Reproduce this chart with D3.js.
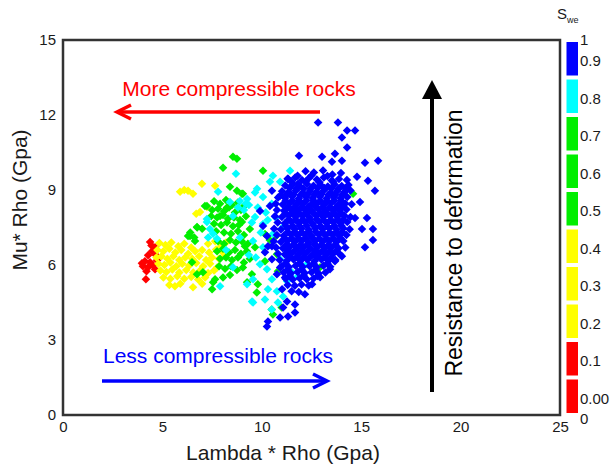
<!DOCTYPE html>
<html>
<head>
<meta charset="utf-8">
<script src="https://cdn.jsdelivr.net/npm/d3@7"></script>
<style>
  html, body { margin: 0; padding: 0; background: #fff; }
  svg { display: block; font-family: Arial, "Liberation Sans", sans-serif; }
</style>
</head>
<body>
<svg id="chart" width="616" height="464"></svg>
<script>
// ---------------- data ----------------
const xTicks = [0, 5, 10, 15, 20, 25];
const yTicks = [0, 3, 6, 9, 12, 15];
const xTitle = "Lambda * Rho (Gpa)";
const yTitle = "Mu* Rho (Gpa)";

const cbColors = ["#FF0000", "#FF0000", "#FFFF00", "#FFFF00", "#FFFF00", "#00EE00", "#00EE00", "#00EE00", "#00FFFF", "#0000FF"]; // bottom to top
const cbTickLabels = ["1", "0.9", "0.8", "0.7", "0.6", "0.5", "0.4", "0.3", "0.2", "0.1", "0.00", "0"];
const cbTickValues = [1, 0.95, 0.85, 0.75, 0.65, 0.55, 0.45, 0.35, 0.25, 0.15, 0.05, 0];

const redPts = [[4.38,6.92],[4.63,6.71],[4.48,6.55],[4.28,6.39],[4.68,6.39],[4.12,6.15],[4.38,6.11],[4.73,6.19],[4.02,5.95],[4.28,5.91],[4.53,5.99],[4.17,5.43],[4.63,5.83],[3.97,6.07],[4.45,6.78],[4.2,5.75]];

const yellowPts = [[5.89,8.93],[6.1,9.0],[6.29,8.97],[6.54,8.85],[6.99,9.25],[7.65,9.17],[6.89,8.12],[7.24,8.32],[6.7,8.05],
[4.85,6.88],[5.15,6.8],[5.45,6.9],[5.8,6.75],[6.1,6.85],[6.45,6.7],[7.3,6.85],[7.65,6.95],[7.95,6.75],[8.2,6.9],
[4.75,6.6],[5.05,6.55],[5.35,6.65],[5.65,6.5],[5.95,6.6],[6.3,6.45],[6.65,6.55],[7.0,6.6],[7.35,6.5],[7.7,6.62],[8.05,6.5],
[4.7,6.3],[4.95,6.35],[5.25,6.25],[5.55,6.35],[5.85,6.2],[6.15,6.3],[6.5,6.25],[6.85,6.35],[7.2,6.2],[7.5,6.3],[7.85,6.25],[8.15,6.35],
[4.8,6.05],[5.1,6.0],[5.4,6.1],[5.7,5.95],[6.0,6.05],[6.35,5.98],[6.7,6.08],[7.05,5.95],[7.4,6.05],[7.75,5.9],
[4.9,5.78],[5.2,5.72],[5.5,5.82],[5.85,5.7],[6.2,5.8],[6.55,5.7],[6.9,5.78],[7.3,5.68],[7.6,5.78],
[5.05,5.5],[5.4,5.45],[5.75,5.55],[6.1,5.45],[6.45,5.52],[6.8,5.42],[7.15,5.5],
[5.35,5.2],[5.63,5.15],[5.9,5.25],[6.54,5.11],[7.0,5.25]];

const greenPts = [[8.55,10.33],[8.75,10.25],[8.05,9.89],[10.06,9.77],[8.4,9.13],[8.75,8.97],[9.05,8.85],[7.14,8.36],[7.24,8.36],[7.8,8.25],[8.25,8.3],[7.9,7.96],[6.74,7.52],[6.29,7.16],
[7.6,8.55],[7.9,8.45],[8.2,8.6],[8.5,8.4],[8.8,8.5],[9.1,8.35],
[7.5,8.2],[8.1,8.15],[8.35,8.3],[8.65,8.1],[8.95,8.2],
[7.45,7.95],[7.75,7.9],[8.05,8.0],[8.3,7.85],[8.6,7.9],[8.9,7.8],[9.2,7.95],
[7.6,7.65],[7.95,7.6],[8.25,7.7],[8.55,7.55],[8.85,7.6],
[7.7,7.35],[8.1,7.3],[8.45,7.25],[8.8,7.35],[9.1,7.2],
[6.4,7.3],[6.6,7.1],[6.75,7.5],[7.0,7.45],
[7.8,6.95],[8.1,6.85],[8.4,7.0],[8.7,6.9],[9.0,6.95],[9.3,6.85],
[7.75,6.55],[8.05,6.65],[8.35,6.5],[8.65,6.6],[8.95,6.45],[9.25,6.55],
[7.9,6.25],[8.2,6.3],[8.5,6.2],[8.8,6.3],[9.1,6.1],[9.4,6.25],
[7.85,5.95],[8.15,5.85],[8.45,5.95],[8.75,5.8],[9.05,5.9],
[8.05,5.5],[8.4,5.6],[7.65,5.43],[7.5,5.03],[7.55,5.31],[9.26,5.31],[6.49,6.11],[6.74,5.63],[7.04,5.71],[6.39,7.16],[6.64,6.96],
[9.0,7.72],[9.4,7.44],[9.15,6.75],[9.66,6.71],[9.5,5.63],[9.8,5.23],[9.75,4.9],[10.5,4.22],[10.56,4.02],[11.0,4.3],[10.16,7.24],[10.76,6.43],[10.81,5.75],[10.16,6.15],
[9.0,8.85],[14.59,8.85],[12.93,5.91],[10.4,7.0],[10.7,7.15]];

const cyanPts = [[8.7,9.65],[11.42,9.77],[10.56,9.57],[10.92,9.33],[9.66,8.9],[10.06,8.72],[9.2,8.45],
[7.8,8.93],[8.4,8.52],[8.9,8.56],[9.26,8.64],[7.24,7.84],[7.39,7.44],[8.55,7.96],[7.24,7.72],[8.8,8.3],[9.1,8.2],[9.35,8.4],[9.76,9.05],[10.41,9.33],
[7.3,7.1],[7.55,7.25],[7.75,7.05],[8.55,5.91],[9.26,5.23],[7.9,5.15],[9.56,4.5],[10.5,4.22],
[9.66,7.92],[10.06,7.64],[9.56,6.96],[10.06,6.71],[10.56,7.24],[11.07,7.52],[9.91,6.03],[10.26,5.83],[9.51,4.54],[10.16,4.62],[10.76,4.95],[11.27,5.35],[11.52,5.71],[11.82,5.55],[12.27,6.03],[10.92,6.23],[10.51,5.43],[10.31,5.03],[11.07,4.74],[10.81,4.5],[9.56,5.43],
[9.8,8.3],[10.2,8.1],[10.5,8.45],[9.5,7.7],[10.3,7.8],[9.35,6.4],[9.7,6.3],[8.9,7.1],[9.95,7.3],[10.7,7.9],[8.2,6.6]];

const bluePts = [
// outliers
[12.83,11.7],[13.83,11.7],[14.29,11.38],[14.69,11.38],[14.03,11.1],[14.29,10.7],[11.87,10.37],[13.03,10.33],[13.68,10.45],[14.03,10.17],[13.53,10.13],[15.19,10.09],[15.85,10.17],[14.79,9.53],[15.34,9.37],[15.69,8.97],[14.94,8.52],[14.69,7.88],[15.29,7.88],[15.04,7.44],[15.59,7.44],[15.59,7.0],[15.19,6.71],[14.03,6.35],[13.68,6.15],[13.43,5.83],[12.93,5.51],[12.53,5.23],[12.17,4.83],[11.67,4.42],[11.67,4.1],[11.32,3.94],[10.92,3.9],[10.31,3.74],[10.26,3.54],[11.32,9.45],[11.82,9.25],
// left scatter
[10.31,6.75],[10.51,6.23],[10.76,5.63],[11.02,5.03],[11.27,4.54],[11.07,4.3],[10.51,8.97],[10.92,8.77],[10.41,8.36],[9.91,8.16],[10.06,7.56],[10.26,7.16],[10.51,6.75],[10.16,6.51],[10.92,5.9],[11.17,5.5],
// core
[12.2,9.75],[12.62,9.7],[13.08,9.78],[13.55,9.62],[13.98,9.68],
[11.3,9.45],[11.68,9.5],[12.02,9.4],[12.38,9.48],[12.77,9.42],[13.12,9.5],[13.52,9.38],[13.88,9.44],[14.28,9.4],
[11.18,9.18],[11.55,9.22],[11.92,9.15],[12.27,9.24],[12.6,9.17],[12.96,9.2],[13.32,9.14],[13.66,9.22],[14.02,9.16],[14.36,9.2],
[11.02,8.95],[11.36,8.92],[11.72,8.98],[12.06,8.9],[12.42,8.96],[12.76,8.93],[13.12,8.98],[13.47,8.9],[13.8,8.96],[14.16,8.92],[14.46,8.98],
[10.82,8.7],[11.17,8.68],[11.52,8.74],[11.86,8.66],[12.22,8.72],[12.56,8.68],[12.92,8.73],[13.26,8.66],[13.62,8.71],[13.96,8.67],[14.3,8.72],
[10.7,8.45],[11.05,8.42],[11.42,8.48],[11.76,8.43],[12.1,8.46],[12.46,8.4],[12.8,8.47],[13.16,8.43],[13.5,8.48],[13.86,8.41],[14.2,8.46],[14.52,8.43],
[10.76,8.2],[11.12,8.17],[11.46,8.22],[11.8,8.16],[12.16,8.21],[12.5,8.18],[12.86,8.22],[13.2,8.16],[13.56,8.2],[13.9,8.18],[14.26,8.22],
[10.66,7.95],[11.01,7.92],[11.36,7.97],[11.7,7.93],[12.06,7.96],[12.4,7.91],[12.76,7.97],[13.1,7.92],[13.46,7.96],[13.8,7.93],[14.16,7.97],[14.46,7.92],
[10.8,7.7],[11.16,7.67],[11.5,7.72],[11.86,7.68],[12.2,7.71],[12.56,7.66],[12.9,7.72],[13.26,7.68],[13.6,7.71],[13.96,7.67],[14.3,7.72],
[10.62,7.45],[10.96,7.42],[11.3,7.47],[11.66,7.43],[12.0,7.46],[12.36,7.41],[12.7,7.47],[13.06,7.43],[13.4,7.46],[13.76,7.42],[14.1,7.47],[14.42,7.43],
[10.76,7.2],[11.1,7.17],[11.46,7.22],[11.8,7.18],[12.16,7.21],[12.5,7.16],[12.86,7.22],[13.2,7.18],[13.56,7.21],[13.9,7.17],[14.26,7.2],
[10.6,6.95],[10.96,6.92],[11.3,6.97],[11.66,6.93],[12.0,6.96],[12.36,6.91],[12.7,6.97],[13.06,6.93],[13.4,6.96],[13.76,6.92],[14.1,6.96],
[10.72,6.7],[11.06,6.67],[11.4,6.72],[11.76,6.68],[12.1,6.71],[12.46,6.66],[12.8,6.72],[13.16,6.68],[13.5,6.71],[13.86,6.67],[14.2,6.7],
[10.82,6.45],[11.16,6.42],[11.5,6.47],[11.86,6.43],[12.2,6.46],[12.56,6.41],[12.9,6.47],[13.26,6.43],[13.6,6.46],[13.94,6.42],
[10.9,6.2],[11.26,6.17],[11.6,6.22],[11.96,6.18],[12.3,6.21],[12.66,6.16],[13.0,6.22],[13.36,6.18],[13.7,6.2],
[11.0,5.95],[11.36,5.92],[11.7,5.97],[12.06,5.93],[12.4,5.96],[12.76,5.91],[13.1,5.97],[13.44,5.93],
[11.1,5.7],[11.46,5.67],[11.8,5.72],[12.16,5.68],[12.5,5.71],[12.86,5.66],[13.2,5.7],
[11.2,5.45],[11.56,5.42],[11.9,5.47],[12.26,5.43],[12.6,5.46],
[11.3,5.2],[11.66,5.17],[12.0,5.22],[12.36,5.18],
[11.5,4.95],[11.86,4.92],
// fill
[11.4,9.07],[12.1,9.05],[12.8,9.08],[13.5,9.06],[14.2,9.07],
[11.25,8.82],[11.95,8.8],[12.65,8.83],[13.35,8.81],[14.05,8.82],
[11.2,8.57],[11.9,8.56],[12.6,8.58],[13.3,8.55],[14.0,8.57],
[11.3,8.32],[12.0,8.31],[12.7,8.33],[13.4,8.3],[14.05,8.32],
[11.2,8.07],[11.9,8.06],[12.6,8.08],[13.3,8.05],[14.0,8.07],
[11.35,7.82],[12.05,7.81],[12.75,7.83],[13.45,7.8],[14.1,7.82],
[11.2,7.57],[11.9,7.56],[12.6,7.58],[13.3,7.55],[14.0,7.57],
[11.3,7.32],[12.0,7.31],[12.7,7.33],[13.4,7.3],[14.05,7.32],
[11.15,7.07],[11.85,7.06],[12.55,7.08],[13.25,7.05],[13.95,7.07],
[11.25,6.82],[11.95,6.81],[12.65,6.83],[13.35,6.8],
[11.3,6.57],[12.0,6.56],[12.7,6.58],[13.4,6.55],
[11.4,6.32],[12.1,6.31],[12.8,6.33],[13.5,6.3],
// fill 2
[11.75,9.07],[12.45,9.06],[13.15,9.08],[13.85,9.05],
[11.6,8.82],[12.3,8.81],[13.0,8.83],[13.7,8.8],
[11.55,8.57],[12.25,8.58],[12.95,8.56],[13.65,8.57],
[11.65,8.32],[12.35,8.33],[13.05,8.31],[13.75,8.32],
[11.55,8.07],[12.25,8.08],[12.95,8.06],[13.65,8.07],
[11.7,7.82],[12.4,7.83],[13.1,7.81],[13.8,7.82],
[11.55,7.57],[12.25,7.58],[12.95,7.56],[13.65,7.57],
[11.65,7.32],[12.35,7.33],[13.05,7.31],[13.75,7.32],
[11.5,7.07],[12.2,7.08],[12.9,7.06],[13.6,7.07],
[11.6,6.82],[12.3,6.83],[13.0,6.81],[13.7,6.82],
[11.65,6.57],[12.35,6.58],[13.05,6.56],[13.75,6.57],
[11.75,6.32],[12.45,6.33],[13.15,6.31],
[11.5,9.32],[12.2,9.33],[12.9,9.31],[13.6,9.32],
[11.8,9.57],[12.5,9.58],[13.3,9.56],
[11.2,6.07],[11.9,6.08],[12.6,6.06],[13.3,6.07],
[11.3,5.82],[12.0,5.83],[12.7,5.81],
[11.4,5.57],[12.1,5.58],[12.8,5.56]
];

const seriesOrder = [
  {pts: redPts, color: "#FF0000"},
  {pts: yellowPts, color: "#FFFF00"},
  {pts: greenPts, color: "#00EE00"},
  {pts: cyanPts, color: "#00FFFF"},
  {pts: bluePts, color: "#0000FF"}
];

// ---------------- layout ----------------
const svg = d3.select("#chart");
const L = 63, R = 560, T = 40, B = 415;
const x = d3.scaleLinear().domain([0, 25]).range([L, R]);
const y = d3.scaleLinear().domain([0, 15]).range([B, T]);
const textColor = "#1a1a1a";

// points
const r = 4.3;
const diamond = `M0,${-r}L${r},0L0,${r}L${-r},0Z`;
const gPts = svg.append("g");
seriesOrder.forEach(s => {
  gPts.selectAll(null).data(s.pts).enter().append("path")
    .attr("d", diamond)
    .attr("transform", d => `translate(${x(d[0])},${y(d[1])})`)
    .attr("fill", s.color);
});

// frame
svg.append("rect").attr("x", L).attr("y", T).attr("width", R - L).attr("height", B - T)
  .attr("fill", "none").attr("stroke", "#333").attr("stroke-width", 2.5);

// axes
const xAxis = svg.append("g").attr("transform", `translate(0,${B})`)
  .call(d3.axisBottom(x).tickValues(xTicks).tickSize(0).tickPadding(6).tickFormat(d3.format("d")));
xAxis.select(".domain").remove();
xAxis.selectAll("text").attr("font-size", 15).attr("fill", textColor).attr("font-family", "Arial, 'Liberation Sans', sans-serif");

const yAxis = svg.append("g").attr("transform", `translate(${L},0)`)
  .call(d3.axisLeft(y).tickValues(yTicks).tickSize(0).tickPadding(7).tickFormat(d3.format("d")));
yAxis.select(".domain").remove();
yAxis.selectAll("text").attr("font-size", 15).attr("fill", textColor).attr("font-family", "Arial, 'Liberation Sans', sans-serif");

// axis titles
svg.append("text").attr("x", 283).attr("y", 460).attr("text-anchor", "middle")
  .attr("font-size", 21).attr("fill", textColor).text(xTitle);
svg.append("text").attr("transform", "translate(27,200) rotate(-90)").attr("text-anchor", "middle")
  .attr("font-size", 21).attr("fill", textColor).text(yTitle);

// colorbar
const cb = d3.scaleLinear().domain([0, 1]).range([B, T]);
const cbX = 566.5, cbW = 11.5;
svg.append("g").selectAll("rect").data(cbColors).enter().append("rect")
  .attr("x", cbX).attr("width", cbW)
  .attr("y", (d, i) => cb((i + 1) / cbColors.length) + 2)
  .attr("height", (d, i) => cb(i / cbColors.length) - cb((i + 1) / cbColors.length) - 4)
  .attr("fill", d => d);
svg.append("g").selectAll("text").data(cbTickLabels).enter().append("text")
  .attr("x", 580)
  .attr("y", (d, i) => cb(cbTickValues[i]) + (i === 0 ? 0 : (i === cbTickLabels.length - 1 ? 4 : 2)))
  .attr("dy", "0.35em")
  .attr("font-size", 15).attr("fill", textColor).text(d => d);
const sTitle = svg.append("text").attr("x", 557).attr("y", 19).attr("font-size", 15).attr("fill", textColor);
sTitle.append("tspan").text("S");
sTitle.append("tspan").attr("font-size", 9).attr("dy", 4).text("we");

// annotations
const ann = svg.append("g");
// red arrow (pointing left)
ann.append("line").attr("x1", 320).attr("y1", 112).attr("x2", 118).attr("y2", 112)
  .attr("stroke", "#FF0000").attr("stroke-width", 3.5);
ann.append("polyline").attr("points", "131,105 117,112 131,119")
  .attr("fill", "none").attr("stroke", "#FF0000").attr("stroke-width", 3.5).attr("stroke-linejoin", "miter");
ann.append("text").attr("x", 239).attr("y", 96).attr("text-anchor", "middle")
  .attr("font-size", 21).attr("fill", "#FF0000").text("More compressible rocks");

// blue arrow (pointing right)
ann.append("line").attr("x1", 102).attr("y1", 381).attr("x2", 326).attr("y2", 381)
  .attr("stroke", "#0000FF").attr("stroke-width", 3.5);
ann.append("polyline").attr("points", "313,374 327,381 313,388")
  .attr("fill", "none").attr("stroke", "#0000FF").attr("stroke-width", 3.5);
ann.append("text").attr("x", 103).attr("y", 363).attr("text-anchor", "start")
  .attr("font-size", 21).attr("fill", "#0000FF").text("Less compressible rocks");

// black vertical arrow
ann.append("line").attr("x1", 432).attr("y1", 392).attr("x2", 432).attr("y2", 96)
  .attr("stroke", "#000").attr("stroke-width", 4);
ann.append("path").attr("d", "M432,80L442,99L422,99Z").attr("fill", "#000");
ann.append("text").attr("transform", "translate(462,243) rotate(-90)").attr("text-anchor", "middle")
  .attr("font-size", 23).attr("fill", "#000").text("Resistance to deformation");
</script>
</body>
</html>
